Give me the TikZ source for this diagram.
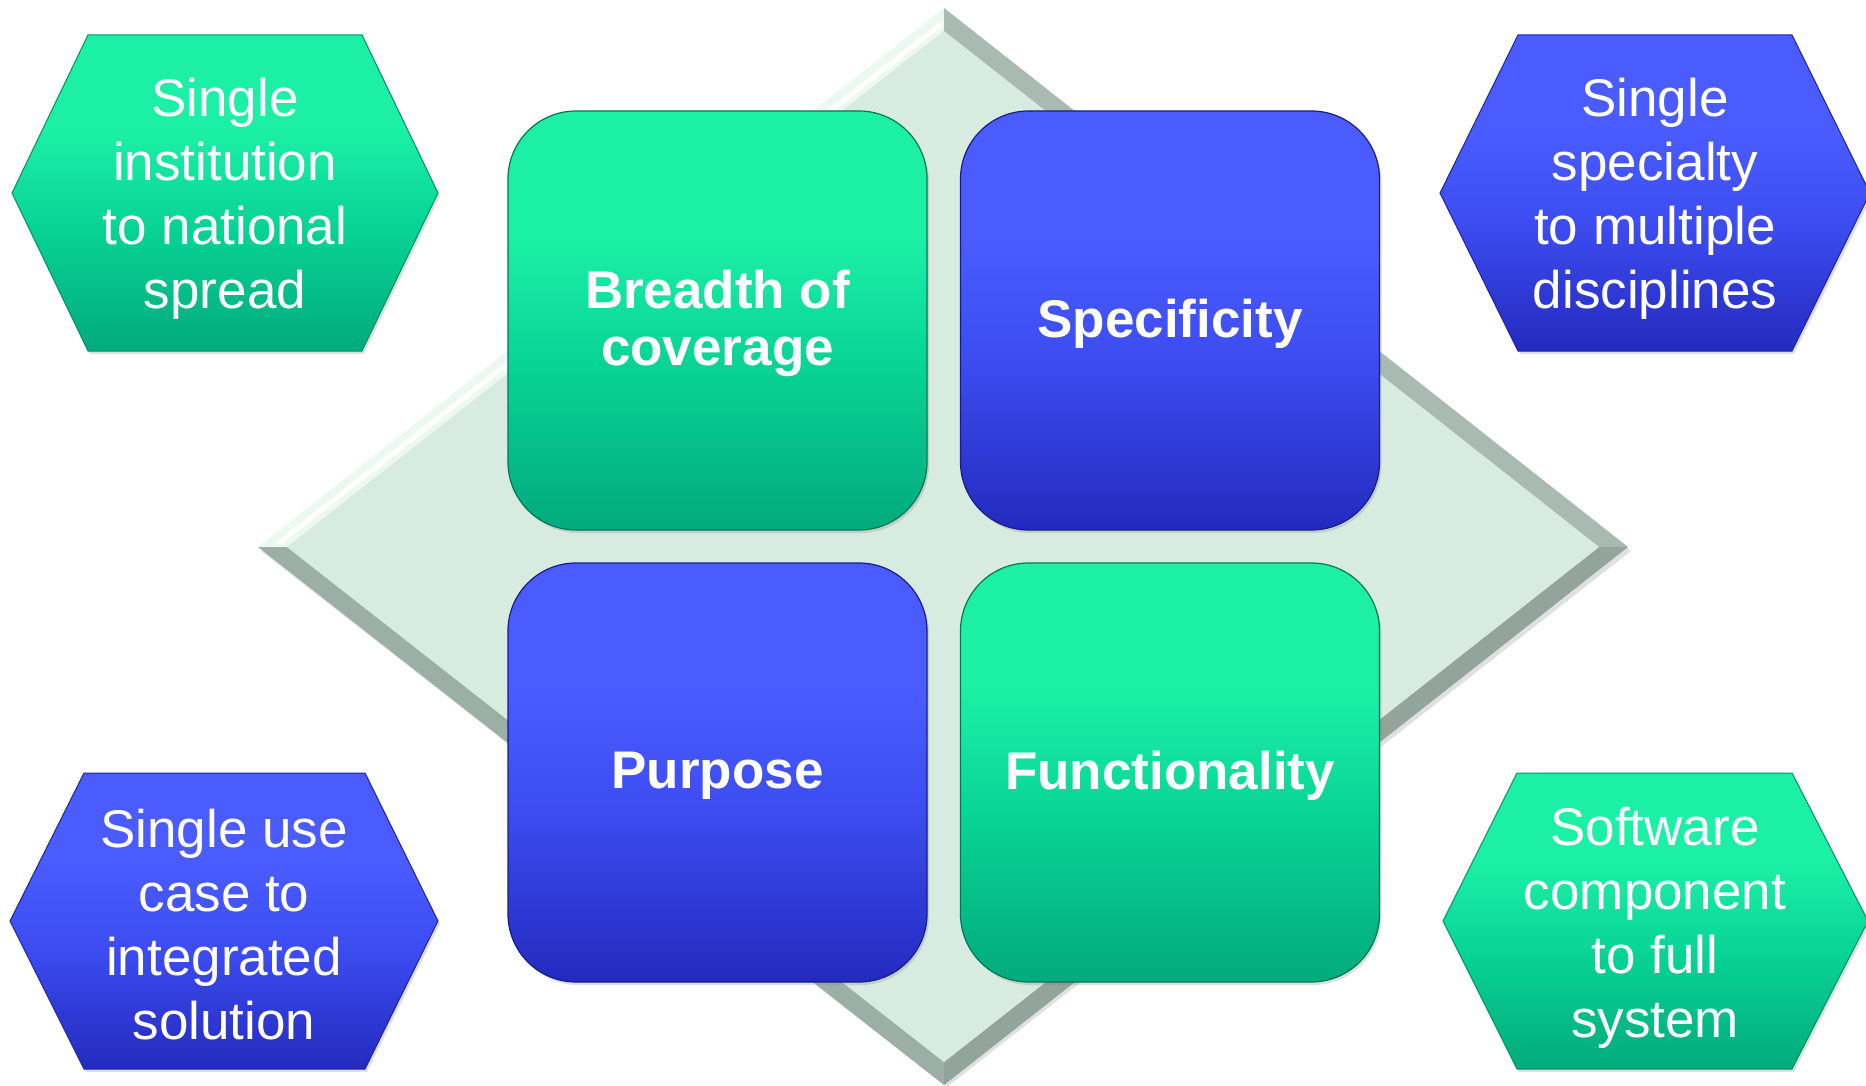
\documentclass[tikz,border=0pt]{standalone}
\usepackage{fontspec}
\setmainfont{Liberation Sans}
\usetikzlibrary{shadows}
\definecolor{gtop}{RGB}{28,240,166}
\definecolor{gmid}{RGB}{8,212,150}
\definecolor{gbot}{RGB}{3,170,125}
\definecolor{btop}{RGB}{74,92,255}
\definecolor{bmid}{RGB}{60,76,240}
\definecolor{bbot}{RGB}{35,42,190}
\definecolor{dfill}{RGB}{215,235,224}
\definecolor{dlight}{RGB}{236,248,242}
\definecolor{dmid}{RGB}{168,186,178}
\definecolor{ddark}{RGB}{146,164,156}
\pgfdeclareverticalshading{gsh}{100bp}{color(0bp)=(gbot); color(25bp)=(gbot); color(45bp)=(gmid); color(60bp)=(gtop); color(75bp)=(gtop); color(100bp)=(gtop)}
\pgfdeclareverticalshading{bsh}{100bp}{color(0bp)=(bbot); color(25bp)=(bbot); color(45bp)=(bmid); color(60bp)=(btop); color(75bp)=(btop); color(100bp)=(btop)}
\tikzset{
  boxbase/.style={rounded corners=68pt, minimum width=419pt, minimum height=419pt,
    inner sep=0pt, align=center, text=white, line width=1.2pt,
    font=\fontsize{53}{57}\selectfont\bfseries,
    drop shadow={opacity=0.25, shadow xshift=2pt, shadow yshift=-3pt}},
  gbox/.style={boxbase, shading=gsh, draw=gbot!70!black},
  bbox/.style={boxbase, shading=bsh, draw=bbot!70!black},
  boxlabel/.style={align=center, text=white, inner sep=0pt,
    font=\fontsize{53}{57}\selectfont\bfseries},
  ghex/.style={shading=gsh, draw=gbot!85!black, line width=1pt,
    drop shadow={opacity=0.25, shadow xshift=2pt, shadow yshift=-3pt}},
  bhex/.style={shading=bsh, draw=bbot!85!black, line width=1pt,
    drop shadow={opacity=0.25, shadow xshift=2pt, shadow yshift=-3pt}},
  hextext/.style={align=center, text=white, inner sep=0pt,
    font=\fontsize{53}{64}\selectfont},
}
\begin{document}
\begin{tikzpicture}[x=1pt,y=-1pt]
\useasboundingbox (0,0) rectangle (1866,1086);
\fill[white] (0,0) rectangle (1866,1086);
% diamond
\coordinate (dT) at (944,8);
\coordinate (dR) at (1628,547);
\coordinate (dB) at (944,1085);
\coordinate (dL) at (258,547);
\coordinate (iT) at (944,31);
\coordinate (iR) at (1599,547);
\coordinate (iB) at (944,1062);
\coordinate (iL) at (287,547);
\fill[black,opacity=0.12] ([shift={(3,4)}]dT) -- ([shift={(3,4)}]dR) -- ([shift={(3,2)}]dB) -- ([shift={(3,4)}]dL) -- cycle;
\fill[dlight] (dL) -- (dT) -- (iT) -- (iL) -- cycle;
\fill[dmid] (dT) -- (dR) -- (iR) -- (iT) -- cycle;
\fill[ddark] (dR) -- (dB) -- (iB) -- (iR) -- cycle;
\fill[ddark!85!dfill] (dB) -- (dL) -- (iL) -- (iB) -- cycle;
\draw[white, line width=5pt, line cap=round] (279,543) -- (940,25);
\fill[dfill] (iT) -- (iR) -- (iB) -- (iL) -- cycle;
% boxes
\node[gbox] (breadth) at (717.5,320.5) {};
\node[boxlabel] (breadthT) at (717.5,323.5) {Breadth of\\coverage};
\node[bbox] (spec) at (1170,320.5) {};
\node[boxlabel] (specT) at (1170,323.5) {Specificity};
\node[bbox] (purpose) at (717.5,772.5) {};
\node[boxlabel] (purposeT) at (717.5,775.5) {Purpose};
\node[gbox] (func) at (1170,772.5) {};
\node[boxlabel] (funcT) at (1170,775.5) {Functionality};
% hexagons
\path[ghex] (12,193) -- (88,35) -- (362,35) -- (438,193) -- (362,351) -- (88,351) -- cycle;
\node[hextext] (hexTL) at (225,199) {Single\\institution\\to national\\spread};
\path[bhex] (1440,193) -- (1518,35) -- (1792,35) -- (1870,193) -- (1792,351) -- (1518,351) -- cycle;
\node[hextext] (hexTR) at (1655,199) {Single\\specialty\\to multiple\\disciplines};
\path[bhex] (10,921) -- (84,773) -- (365,773) -- (438,921) -- (365,1069) -- (84,1069) -- cycle;
\node[hextext] (hexBL) at (224,925) {Single use\\case to\\integrated\\solution};
\path[ghex] (1443,921) -- (1517,773) -- (1792,773) -- (1868,921) -- (1792,1069) -- (1517,1069) -- cycle;
\node[hextext] (hexBR) at (1655,928) {Software\\component\\to full\\system};
\end{tikzpicture}
\end{document}
